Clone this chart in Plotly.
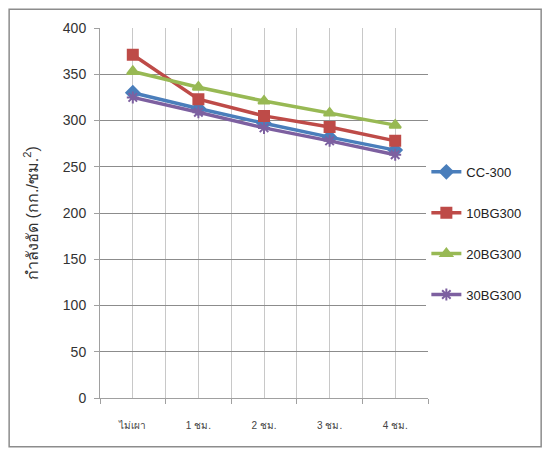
import plotly.graph_objects as go

categories = ["ไม่เผา", "1 ชม.", "2 ชม.", "3 ชม.", "4 ชม."]
cc300 = [330, 313, 297, 282, 268]
bg10 = [371, 323, 305, 293, 278]
bg20 = [353, 336, 321, 308, 295]
bg30 = [325, 309, 292, 278, 263]

series = [
    ("CC-300", cc300, "#4a7ebb", "diamond"),
    ("10BG300", bg10, "#be4b48", "square"),
    ("20BG300", bg20, "#98b954", "triangle-up"),
    ("30BG300", bg30, "#7d60a0", "asterisk-open"),
]

xs = list(range(len(categories)))
fig = go.Figure()
for name, vals, col, sym in series:
    fig.add_trace(go.Scatter(
        x=xs, y=vals, name=name, mode="lines+markers", legendgroup=name,
        line=dict(color=col, width=3.5),
        marker=dict(symbol=sym, size=10, color=col,
                    line=dict(color=col, width=2)),
    ))

fig.update_layout(
    width=534, height=440,
    margin=dict(l=92, r=114, t=20, b=50, autoexpand=False),
    paper_bgcolor="white", plot_bgcolor="white",
    font=dict(family="Liberation Sans, sans-serif", color="#333"),
    showlegend=True,
    legend=dict(x=0.995, y=0.445, yanchor="middle", xanchor="left",
                font=dict(size=13, color="#222"), tracegroupgap=21,
                itemwidth=30),
    xaxis=dict(
        range=[-0.5, 4.5], tickvals=xs, ticktext=categories,
        showgrid=True, gridcolor="#c8c8c8", gridwidth=1,
        ticks="", tickfont=dict(size=10, color="#444"), ticklabelstandoff=18,
        showline=True, linecolor="#a0a0a0", zeroline=False, automargin=False,
        minor=dict(tickvals=[-0.5, 0.5, 1.5, 2.5, 3.5, 4.5], showgrid=True,
                   gridcolor="#c8c8c8", ticks="outside", ticklen=5,
                   tickcolor="#a0a0a0"),
    ),
    yaxis=dict(
        range=[0, 400], dtick=50, showgrid=True, gridcolor="#8c8c8c",
        gridwidth=1, ticks="outside", ticklen=5, tickcolor="#a0a0a0",
        showline=True, linecolor="#a0a0a0", zeroline=False, automargin=False,
        tickfont=dict(size=14, color="#333"), ticklabelstandoff=5,
        title=dict(text="กำลังอัด (กก./ซม.<sup>2</sup>)", font=dict(size=16, color="#333"),
                   standoff=20),
    ),
    shapes=[dict(type="rect", xref="paper", yref="paper",
                 x0=-0.277, x1=1.345, y0=-0.132, y1=1.051,
                 line=dict(color="#8c8c8c", width=1.5), layer="above")],
)

fig.write_html("out.html")
